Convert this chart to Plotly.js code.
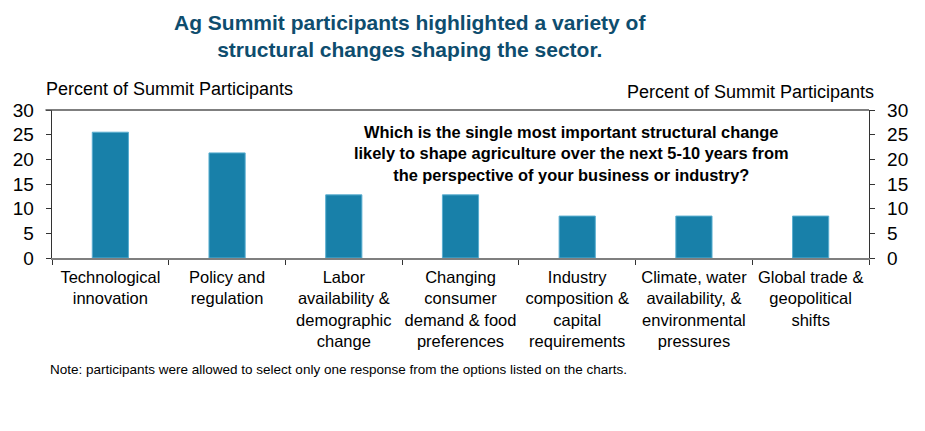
<!DOCTYPE html>
<html>
<head>
<meta charset="utf-8">
<script src="https://cdn.plot.ly/plotly-3.0.1.min.js"></script>
<style>
  html, body { margin: 0; padding: 0; background: #ffffff; }
  #chart { width: 925px; height: 431px; }
</style>
</head>
<body>
<div id="chart"></div>
<script>
// Ag Summit - structural change question

// categories (line breaks as on the original chart)
var categories = [
  'Technological<br>innovation',
  'Policy and<br>regulation',
  'Labor<br>availability &<br>demographic<br>change',
  'Changing<br>consumer<br>demand & food<br>preferences',
  'Industry<br>composition &<br>capital<br>requirements',
  'Climate, water<br>availability, &<br>environmental<br>pressures',
  'Global trade &<br>geopolitical<br>shifts'
];

// percent of summit participants
var shares = [25.5, 21.3, 12.8, 12.8, 8.5, 8.5, 8.5];

var yTicks = [0, 5, 10, 15, 20, 25, 30];

var FONT = '"Liberation Sans", Arial, sans-serif';

var bars = {
  x: categories,
  y: shares,
  type: 'bar',
  hoverinfo: 'none',
  marker: {
    color: '#1880a9',
    line: { color: '#5aaed0', width: 1 }
  }
};

// invisible copy so the right axis gets drawn
var rightAxis = {
  x: categories,
  y: shares,
  yaxis: 'y2',
  type: 'scatter',
  mode: 'lines',
  line: { width: 0, color: 'rgba(0,0,0,0)' },
  hoverinfo: 'skip',
  showlegend: false
};

var data = [bars, rightAxis];

var yCommon = {
  range: [0, 30],
  tickvals: yTicks,
  showgrid: false,
  zeroline: false,
  showline: true,
  linecolor: '#333333',
  linewidth: 1.3,
  ticks: 'outside',
  ticklen: 5,
  tickcolor: '#333333',
  ticklabelstandoff: 8,
  tickfont: { size: 19, color: '#000000' },
  fixedrange: true
};

var layout = {
  width: 925,
  height: 431,
  font: { family: FONT, color: '#000000' },
  showlegend: false,
  bargap: 0.69,
  plot_bgcolor: '#ffffff',
  paper_bgcolor: '#ffffff',
  margin: { l: 52, r: 56, t: 110, b: 173 },
  xaxis: {
    type: 'category',
    categoryorder: 'array',
    categoryarray: categories,
    showgrid: false,
    showline: true,
    linecolor: '#7f7f7f',
    linewidth: 2,
    ticks: 'outside',
    tickson: 'boundaries',
    ticklen: 5,
    tickcolor: '#333333',
    tickangle: 0,
    ticklabelstandoff: 3,
    tickfont: { size: 16.5, color: '#000000' },
    fixedrange: true
  },
  yaxis: Object.assign({}, yCommon, { side: 'left' }),
  yaxis2: Object.assign({}, yCommon, { side: 'right', overlaying: 'y' }),
  shapes: [
    {
      type: 'line', xref: 'paper', yref: 'paper',
      x0: -0.008, x1: 1, y0: 1, y1: 1,
      line: { color: '#555555', width: 1.5 }
    }
  ],
  annotations: [
    {
      // chart title
      text: '<b>Ag Summit participants highlighted a variety of<br>structural changes shaping the sector.</b>',
      xref: 'paper', yref: 'paper',
      x: 0.438, y: 1.5, xanchor: 'center', yanchor: 'middle',
      showarrow: false,
      font: { size: 21, color: '#0e4d6e' }
    },
    {
      text: 'Percent of Summit Participants',
      xref: 'paper', yref: 'paper',
      x: -0.01, y: 1.142, xanchor: 'left', yanchor: 'middle',
      showarrow: false,
      font: { size: 18, color: '#000000' }
    },
    {
      text: 'Percent of Summit Participants',
      xref: 'paper', yref: 'paper',
      x: 1.008, y: 1.125, xanchor: 'right', yanchor: 'middle',
      showarrow: false,
      font: { size: 18, color: '#000000' }
    },
    {
      text: '<b>Which is the single most important structural change<br>likely to shape agriculture over the next 5-10 years from<br>the perspective of your business or industry?</b>',
      xref: 'paper', yref: 'paper',
      x: 0.636, y: 0.703, xanchor: 'center', yanchor: 'middle',
      showarrow: false,
      font: { size: 16.4, color: '#000000' }
    },
    {
      text: 'Note: participants were allowed to select only one response from the options listed on the charts.',
      xref: 'paper', yref: 'paper',
      x: -0.005, y: -0.755, xanchor: 'left', yanchor: 'middle',
      showarrow: false,
      font: { size: 13.5, color: '#000000' }
    }
  ]
};

Plotly.newPlot('chart', data, layout, { staticPlot: true });
</script>
</body>
</html>
